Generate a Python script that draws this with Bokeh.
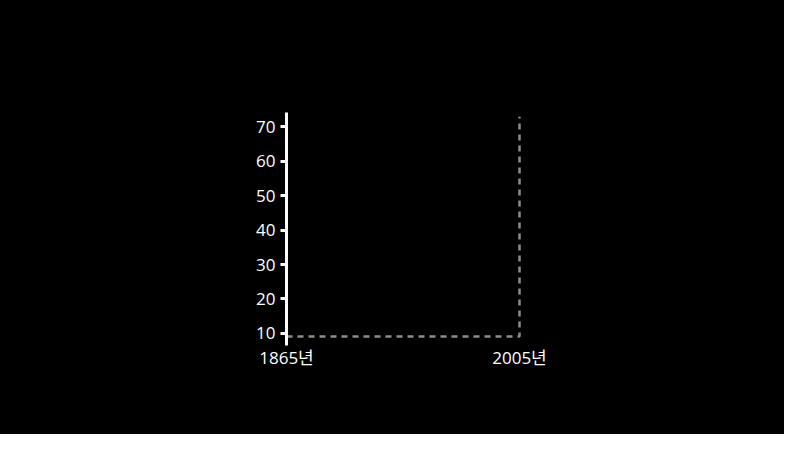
from bokeh.plotting import figure
from bokeh.models import FixedTicker, Label, Range1d
from bokeh.embed import file_html
from bokeh.resources import INLINE

# data
years = [1865, 2005]
year_labels = ["1865년", "2005년"]
y_ticks = [10, 20, 30, 40, 50, 60, 70]
guide_x = [1865, 2005, 2005]
guide_y = [9.1, 9.1, 72.9]
y_title = "가뭄 빈도"

FONT = "'Open Sans', 'Noto Sans CJK KR', sans-serif"

p = figure(width=784, height=434, output_backend="svg", toolbar_location=None,
           x_range=Range1d(1865, 2006.8), y_range=Range1d(6.5, 74.1),
           background_fill_color="black", border_fill_color="black",
           outline_line_color=None,
           min_border_left=286, min_border_right=262,
           min_border_top=112, min_border_bottom=89)
p.styles = {"background-color": "black"}
p.grid.visible = False

p.line(guide_x, guide_y, line_color="#8c8c8c", line_width=2.5, line_dash="6 5")

# y axis
p.yaxis.ticker = FixedTicker(ticks=y_ticks)
p.yaxis.axis_line_color = "white"
p.yaxis.axis_line_width = 3
p.yaxis.major_tick_line_color = "white"
p.yaxis.major_tick_line_width = 3
p.yaxis.major_tick_out = 6
p.yaxis.major_tick_in = 0
p.yaxis.minor_tick_line_color = None
p.yaxis.major_label_text_color = "white"
p.yaxis.major_label_text_font = FONT
p.yaxis.major_label_text_font_size = "17px"
p.yaxis.major_label_standoff = 5

# x axis: labels only
p.xaxis.ticker = FixedTicker(ticks=years)
p.xaxis.major_label_overrides = {y: l for y, l in zip(years, year_labels)}
p.xaxis.axis_line_color = None
p.xaxis.major_tick_line_color = None
p.xaxis.major_tick_out = 0
p.xaxis.major_tick_in = 0
p.xaxis.minor_tick_line_color = None
p.xaxis.major_label_text_color = "white"
p.xaxis.major_label_text_font = FONT
p.xaxis.major_label_text_font_size = "17px"
p.xaxis.major_label_standoff = 0

p.add_layout(Label(x=1846.5, y=78.4, text=y_title, text_color="white",
                   text_font=FONT, text_font_size="17px",
                   text_baseline="middle", text_align="left"))

open("out.html", "w").write(file_html(p, INLINE))
